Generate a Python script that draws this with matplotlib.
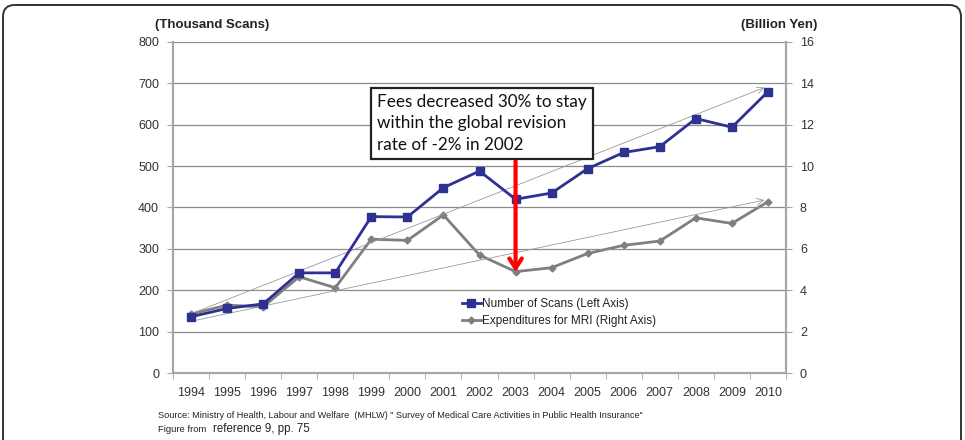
import matplotlib
matplotlib.use("Agg")
import matplotlib.pyplot as plt
from matplotlib.patches import FancyBboxPatch

years = ["1994", "1995", "1996", "1997", "1998", "1999", "2000", "2001", "2002",
         "2003", "2004", "2005", "2006", "2007", "2008", "2009", "2010"]
scans = [136, 156, 167, 242, 242, 378, 377, 448, 488, 420, 435, 494, 533, 547, 615, 594, 680]
expend = [2.85, 3.28, 3.2, 4.65, 4.12, 6.47, 6.41, 7.64, 5.7, 4.9, 5.09, 5.78, 6.17, 6.38, 7.5, 7.23, 8.28]
left_ticks = [0, 100, 200, 300, 400, 500, 600, 700, 800]
right_ticks = [0, 2, 4, 6, 8, 10, 12, 14, 16]
# trend arrows (x index, left-axis value)
trend_upper = [(0, 143), (15.9, 690)]
trend_lower = [(0, 125), (15.9, 418)]
# red arrow (x index, left-axis value)
red_arrow = [(9, 512), (9, 244)]

plt.rcParams['font.family'] = ['Liberation Sans', 'DejaVu Sans']

fig = plt.figure(figsize=(9.65, 4.4), dpi=100)
W, H = 965, 440
ax = fig.add_axes([173 / W, 1 - 373 / H, 613 / W, 331 / H])
ax2 = ax.twinx()

x = list(range(len(years)))
blue = "#2e3192"
grey = "#7f7f7f"

ax.set_xlim(-0.5, len(years) - 0.5)
ax.set_ylim(0, 800)
ax2.set_ylim(0, 16)
ax.set_yticks(left_ticks)
ax2.set_yticks(right_ticks)
ax.set_xticks(x)
ax.set_xticklabels(years)
ax.set_xticks([i - 0.5 for i in range(len(years) + 1)], minor=True)
ax.tick_params(axis='x', which='major', length=0, pad=10, labelsize=9, labelcolor="#333333")
ax.tick_params(axis='x', which='minor', length=4, color="#a6a6a6", direction='out')
ax.tick_params(axis='y', length=4, color="#a6a6a6", labelsize=9, labelcolor="#333333", pad=6)
ax2.tick_params(axis='y', length=4, color="#a6a6a6", labelsize=9, labelcolor="#333333", pad=6)

ax.grid(axis='y', color="#8c8c8c", lw=0.9)
ax.set_axisbelow(True)
for a in (ax, ax2):
    a.spines['top'].set_visible(False)
    for s in ('left', 'right', 'bottom'):
        a.spines[s].set_color("#a6a6a6")
        a.spines[s].set_linewidth(1.5)

# trend arrows
for tr in (trend_upper, trend_lower):
    ax.annotate("", xy=tr[1], xytext=tr[0],
                arrowprops=dict(arrowstyle="->", color="#9a9a9a", lw=0.6,
                                mutation_scale=12, shrinkA=0, shrinkB=0), zorder=2)

l1, = ax.plot(x, scans, color=blue, lw=2, marker='s', markersize=5.8, zorder=4,
              label="Number of Scans (Left Axis)")
l2, = ax2.plot(x, expend, color=grey, lw=2, marker='D', markersize=3.5, zorder=3,
               label="Expenditures for MRI (Right Axis)")

ax2.set_zorder(ax.get_zorder() - 1)
ax.patch.set_visible(False)

# red arrow
ax.annotate("", xy=red_arrow[1], xytext=red_arrow[0],
            arrowprops=dict(arrowstyle="->,head_length=0.7,head_width=0.45", color="#ff0000",
                            lw=3, shrinkA=0, shrinkB=0), zorder=6)

# text box
fig.text(377 / W, 1 - 94 / H,
         "Fees decreased 30% to stay\nwithin the global revision\nrate of -2% in 2002",
         family=['Lato', 'DejaVu Sans'], fontsize=12.3, color="#111111",
         va='top', ha='left', linespacing=1.42,
         bbox=dict(boxstyle="square,pad=0.38", fc="white", ec="#222222", lw=1.6), zorder=10)

leg = ax.legend(handles=[l1, l2], loc='upper left', bbox_to_anchor=(456 / W, 1 - 292 / H),
                bbox_transform=fig.transFigure, frameon=False, fontsize=8.5,
                handlelength=1.6, handletextpad=0.1, labelspacing=0.45, borderpad=0)
for t in leg.get_texts():
    t.set_color("#222222")

fig.text(212 / W, 1 - 25 / H, "(Thousand Scans)", ha='center', va='center',
         fontsize=9.5, fontweight='bold', color="#222222")
fig.text(779 / W, 1 - 25 / H, "(Billion Yen)", ha='center', va='center',
         fontsize=9.5, fontweight='bold', color="#222222")

fig.text(158 / W, 1 - 415 / H,
         "Source: Ministry of Health, Labour and Welfare  (MHLW) \" Survey of Medical Care Activities in Public Health Insurance\"",
         ha='left', va='center', fontsize=6.55, color="#222222")
fig.text(158 / W, 1 - 429 / H, "Figure from", ha='left', va='center', fontsize=6.8, color="#222222")
fig.text(213 / W, 1 - 429 / H, "reference 9, pp. 75", ha='left', va='center', fontsize=8.3, color="#222222")

border = FancyBboxPatch((3 / W, -0.2), 958 / W, (1 - 5 / H) + 0.2,
                        boxstyle="round,pad=0,rounding_size=0.012",
                        transform=fig.transFigure, fill=False, ec="#333333", lw=1.4,
                        mutation_aspect=W / H)
fig.patches.append(border)

fig.savefig("out.png", dpi=100)
